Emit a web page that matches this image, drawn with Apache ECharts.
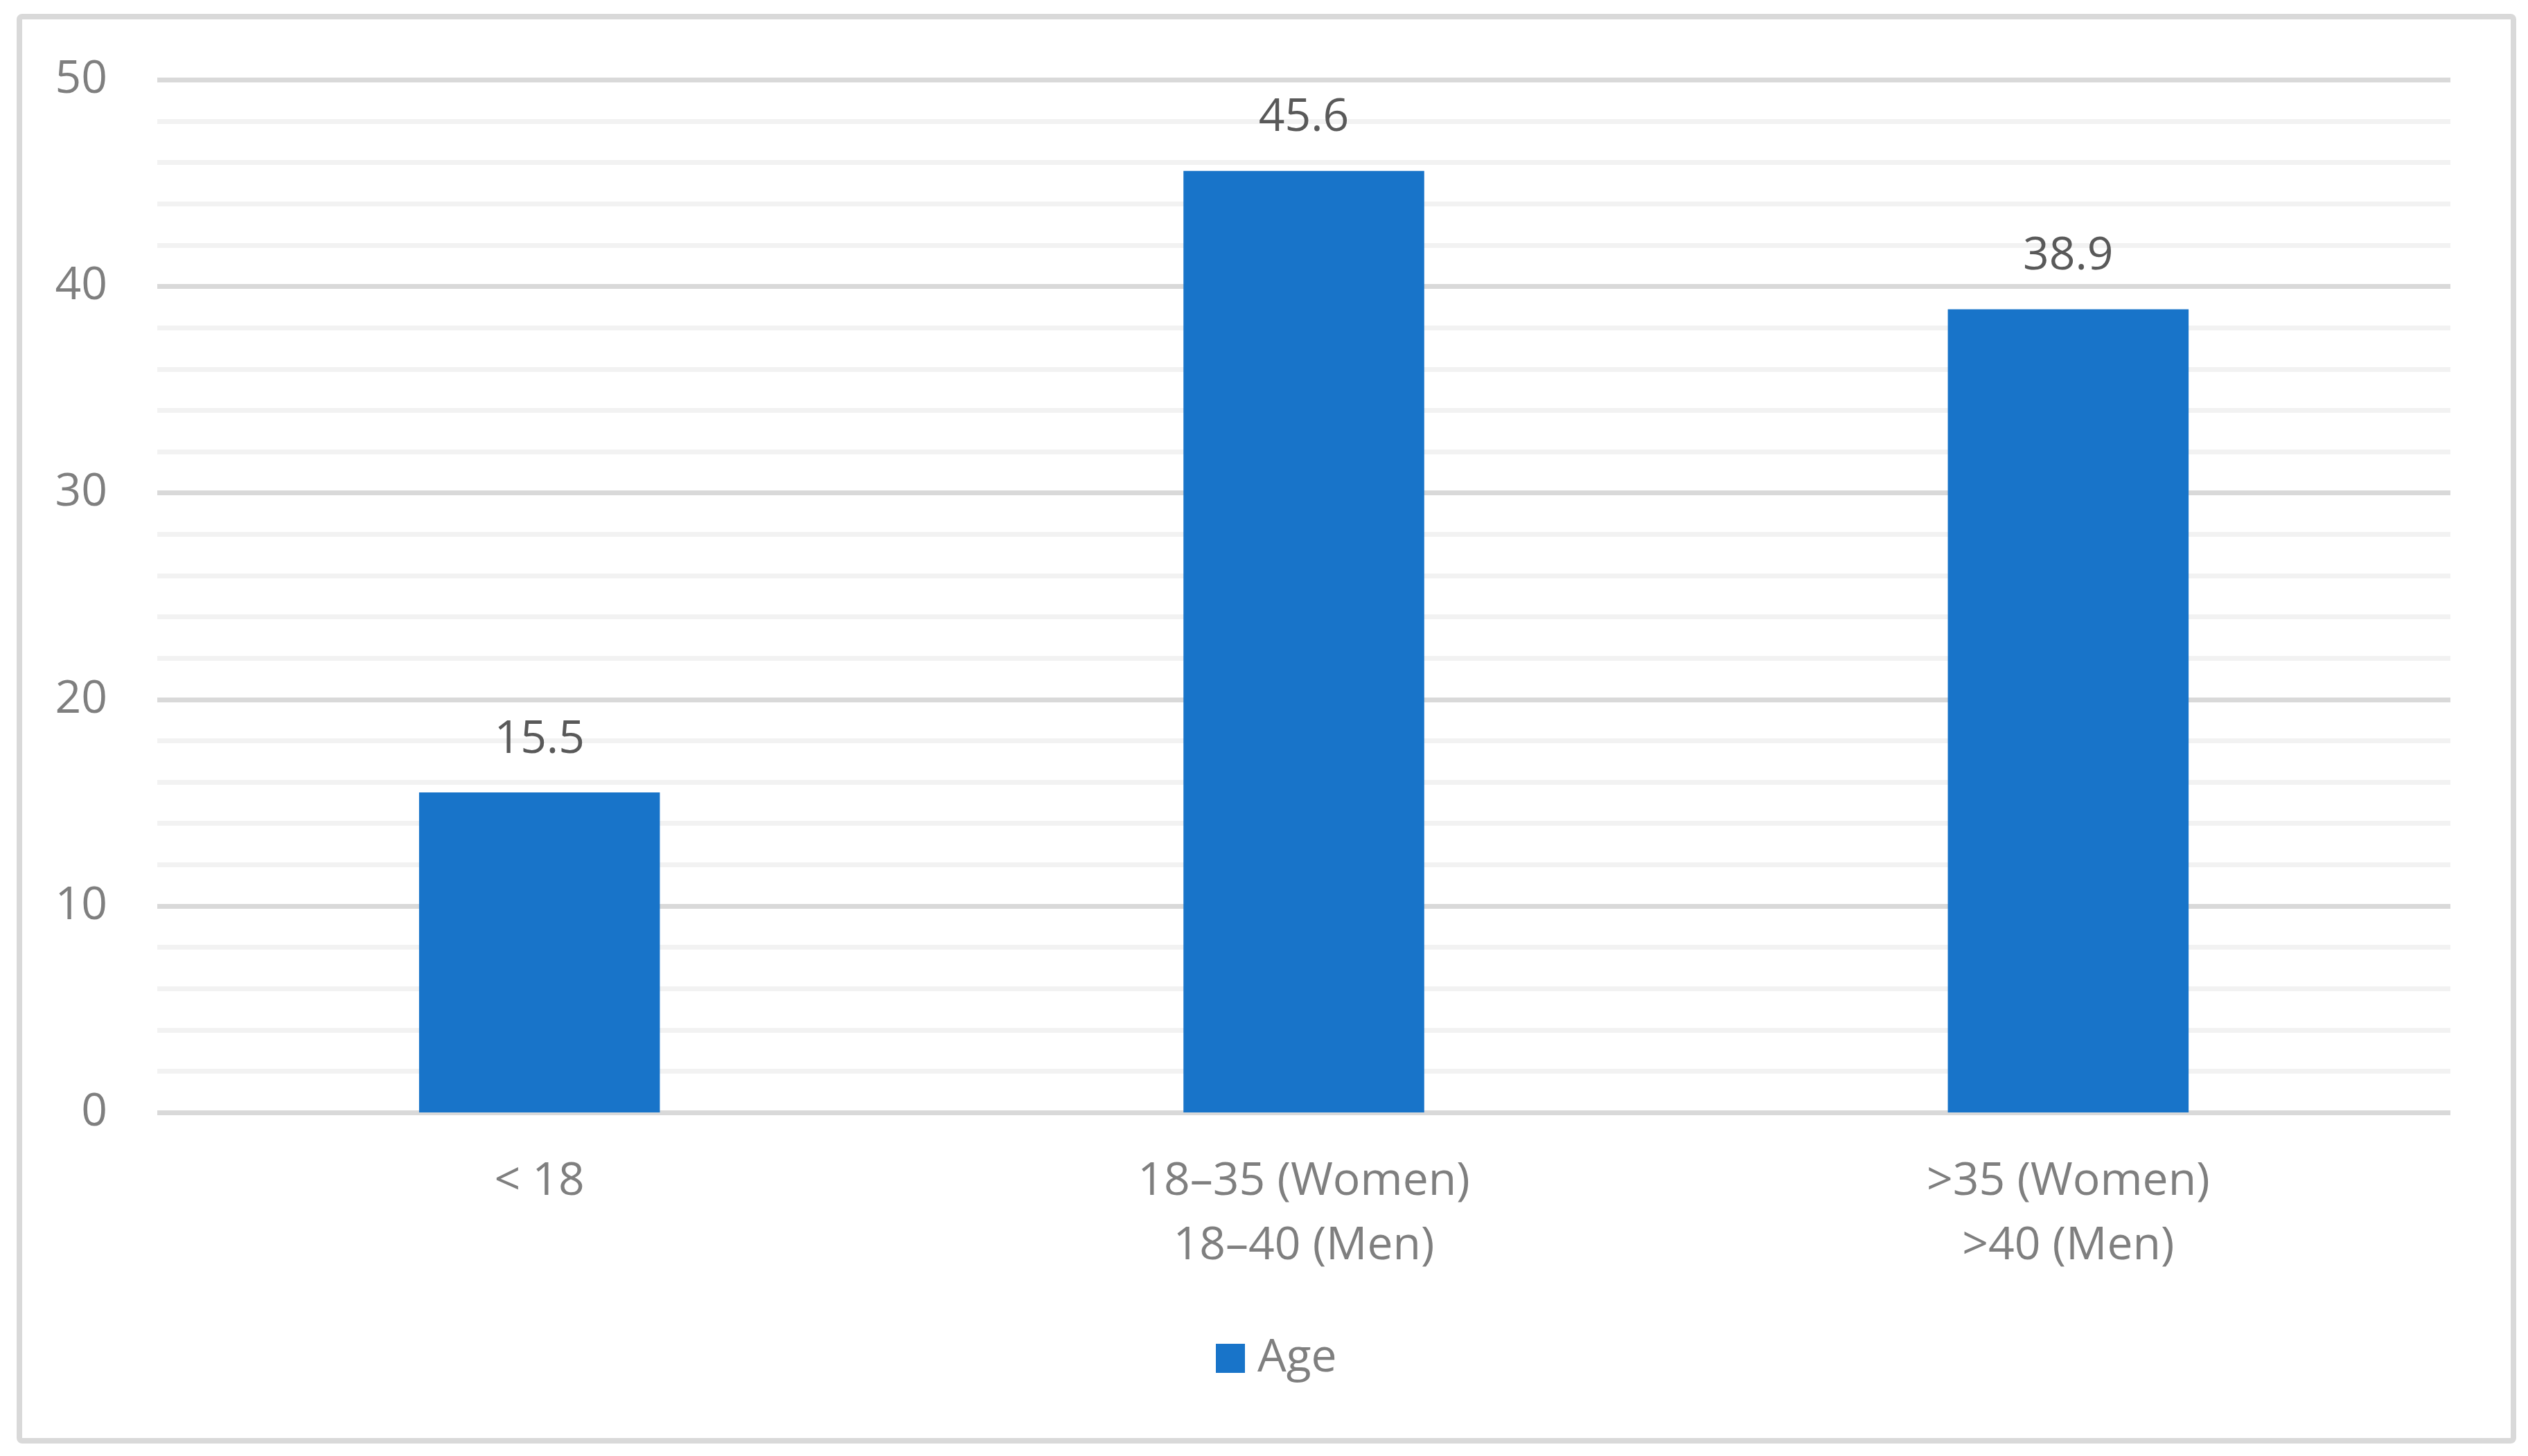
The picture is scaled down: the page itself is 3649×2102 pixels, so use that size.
<!DOCTYPE html>
<html>
<head>
<meta charset="utf-8">
<script src="https://cdn.jsdelivr.net/npm/echarts@6/dist/echarts.min.js"></script>
<style>
html,body{margin:0;padding:0;background:#fff;}
#chart{width:3649px;height:2102px;}
</style>
</head>
<body>
<div id="chart"></div>
<script>
const categories = ["< 18", "18\u201335 (Women)\n18\u201340 (Men)", ">35 (Women)\n>40 (Men)"];
const seriesName = "Age";
const values = [15.5, 45.6, 38.9];
const yMin = 0, yMax = 50, yInterval = 10;

const FONT = "'Open Sans', 'Noto Sans', sans-serif";
const chart = echarts.init(document.getElementById('chart'), null, {renderer: 'canvas'});
chart.setOption({
  animation: false,
  backgroundColor: '#ffffff',
  graphic: [{
    type: 'rect',
    shape: {x: 28, y: 24, width: 3600, height: 2056, r: 4},
    style: {fill: 'none', stroke: '#d9d9d9', lineWidth: 8},
    z: -10
  }],
  grid: {left: 227, right: 112, top: 115.5, bottom: 496, containLabel: false},
  legend: {
    data: [seriesName],
    left: 1755,
    top: 1928,
    padding: 0,
    itemWidth: 42,
    itemHeight: 42,
    icon: 'rect',
    textStyle: {fontFamily: FONT, fontSize: 66, lineHeight: 66, color: '#7f7f7f', padding: [0, 0, 0, 13]}
  },
  xAxis: {
    type: 'category',
    data: categories,
    axisLine: {show: false},
    axisTick: {show: false},
    axisLabel: {interval: 0, margin: 54, fontFamily: FONT, fontSize: 66, lineHeight: 93, color: '#7f7f7f'}
  },
  yAxis: {
    type: 'value',
    min: yMin, max: yMax, interval: yInterval,
    axisLine: {show: false},
    axisTick: {show: false},
    axisLabel: {margin: 72, fontFamily: FONT, fontSize: 66, color: '#7f7f7f'},
    splitLine: {show: true, lineStyle: {color: '#d9d9d9', width: 7}},
    minorTick: {show: false, splitNumber: 5},
    minorSplitLine: {show: true, lineStyle: {color: '#f2f2f2', width: 7}}
  },
  series: [{
    name: seriesName,
    type: 'bar',
    data: values,
    barWidth: '31.5%',
    itemStyle: {color: '#1874c9'},
    label: {show: true, position: 'top', distance: 43, fontFamily: FONT, fontSize: 66, color: '#595959',
            formatter: p => p.value.toFixed(1)}
  }]
});
</script>
</body>
</html>
